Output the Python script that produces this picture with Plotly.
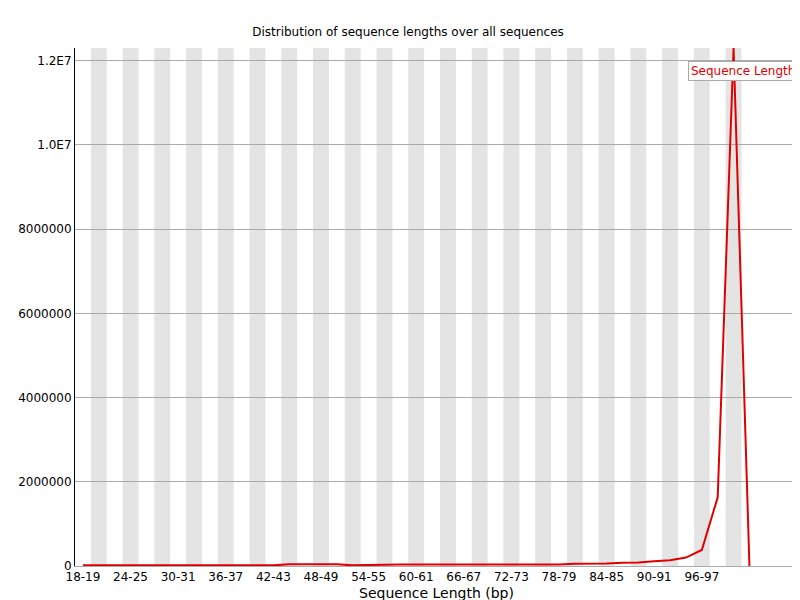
import plotly.graph_objects as go

starts = list(range(18, 104, 2))
categories = [f"{s}-{s+1}" for s in starts]
values = [15000, 15000, 15000, 15000, 15000, 15000, 15000, 15000, 15000, 15000, 15000, 15000,
          40000, 40000, 40000, 40000, 15000, 15000, 30000, 35000, 35000, 35000, 35000, 35000,
          35000, 35000, 35000, 35000, 35000, 35000, 55000, 55000, 60000, 80000, 85000, 110000,
          135000, 200000, 380000, 1630000, 12300000, 0]
# pad leading so peak lands at 100-101
values = [15000] + values
y_ticks = [0, 2000000, 4000000, 6000000, 8000000, 10000000, 12000000]
y_labels = ["0", "2000000", "4000000", "6000000", "8000000", "1.0E7", "1.2E7"]

idx = list(range(len(categories)))
fig = go.Figure()
fig.add_trace(go.Scatter(x=idx, y=values, mode="lines", name="Sequence Length",
                         line=dict(color="#e00000", width=2), showlegend=False))
shapes = []
for i in idx:
    if i % 2 == 1 and i <= 41:
        shapes.append(dict(type="rect", xref="x", yref="paper", x0=i - 0.5, x1=i + 0.5,
                           y0=0, y1=1, fillcolor="#e4e4e4", line_width=0, layer="below"))
tick_idx = [i for i in idx[::3] if i <= 39]
fig.update_layout(
    width=800, height=600, plot_bgcolor="white", paper_bgcolor="white",
    margin=dict(l=61, r=10, t=40, b=39),
    font=dict(family="DejaVu Sans", size=12, color="black"),
    title=dict(text="Distribution of sequence lengths over all sequences", x=0.5, xanchor="center",
               y=0.96, yanchor="middle", font=dict(size=12)),
    shapes=shapes,
    annotations=[dict(text="Sequence Length", xref="paper", yref="paper", x=1, y=0.975,
                      xanchor="right", yanchor="top", showarrow=False, bgcolor="white",
                      bordercolor="#aaaaaa", borderwidth=1, borderpad=2,
                      font=dict(color="#e00000", size=12))],
    xaxis=dict(range=[-0.5, 45.06], tickmode="array", tickvals=tick_idx,
               ticktext=[categories[i] for i in tick_idx], showgrid=False, zeroline=False,
               showline=True, linecolor="#aaaaaa", ticks="",
               title=dict(text="Sequence Length (bp)", standoff=4)),
    yaxis=dict(range=[0, 12300000], tickmode="array", tickvals=y_ticks, ticktext=y_labels,
               showgrid=True, gridcolor="#aaaaaa", zeroline=False, showline=True,
               linecolor="black", ticks=""),
)
fig.write_html("out.html")
